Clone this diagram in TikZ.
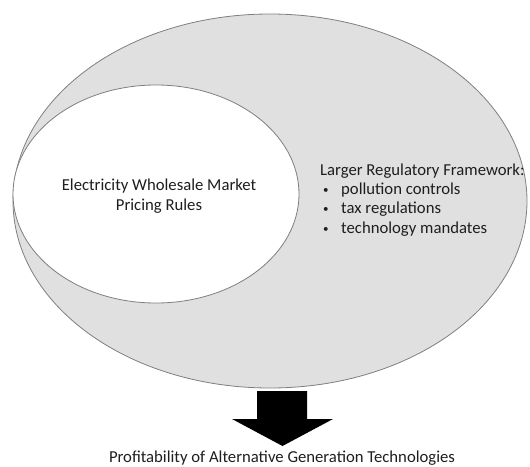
\documentclass[tikz,border=0pt]{standalone}
\usepackage{fontspec}
\setmainfont{Carlito}
\usetikzlibrary{shapes.geometric, positioning, calc}
\definecolor{shade}{HTML}{E0E0E0}
\definecolor{rim}{HTML}{7F7F7F}
\definecolor{ink}{HTML}{1E1E1E}
\tikzset{lbl/.style={text=ink, font=\fontsize{16.7}{19.3}\selectfont, inner sep=0pt},
  oval/.style={ellipse, draw=rim, line width=0.8pt, inner sep=0pt}}
\newcommand{\itm}[1]{\hspace*{3pt}\makebox[18pt][l]{\fontsize{11}{11}\selectfont\raisebox{1pt}{\textbullet}}#1}

\begin{document}
\begin{tikzpicture}[x=1pt, y=-1pt]
  \useasboundingbox (0,0) rectangle (530,466);
  \node[oval, fill=shade, minimum width=514pt, minimum height=374pt] (frame) at (270,201) {};
  \node[oval, fill=white, minimum width=286pt, minimum height=218pt] (market) at (156,194) {};
  \node[lbl, align=center, anchor=base] (rules) at (159,210) {Electricity Wholesale Market\\Pricing Rules};
  \node[lbl, align=left, anchor=base west] (reg) at (320,233) {Larger Regulatory Framework:\\
    \itm{pollution controls}\\ \itm{tax regulations}\\ \itm{technology mandates}};
  % block arrow down to the outcome
  \coordinate (tail) at (282,391);
  \fill[black] (tail) ++(-25,0) -- ++(50,0) -- ++(0,28) -- ++(26,0) -- ++(-50.5,27) -- ++(-50.5,-27) -- ++(25,0) -- cycle;
  \node[lbl, anchor=base] (profit) at (282,462) {Profitability of Alternative Generation Technologies};
\end{tikzpicture}
\end{document}
